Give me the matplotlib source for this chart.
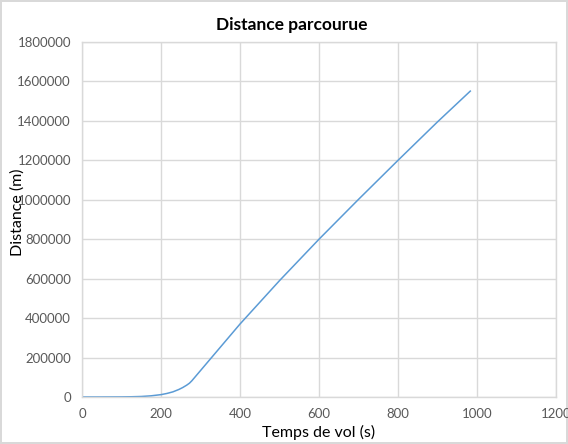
import numpy as np
import matplotlib.pyplot as plt

# temps de vol (s) et distance parcourue (m)
temps = [0, 50, 100, 125, 150, 175, 200, 215, 230, 245, 255, 265, 272, 278,
         300, 350, 400, 500, 600, 700, 800, 900, 983]
distance = [0, 100, 500, 1200, 2600, 6000, 12000, 18000, 26000, 38000, 48000, 60000, 70000, 82000,
            134000, 252000, 370000, 590000, 800000, 1002000, 1200000, 1395000, 1551000]

x_ticks = [0, 200, 400, 600, 800, 1000, 1200]
y_ticks = [0, 200000, 400000, 600000, 800000, 1000000, 1200000, 1400000, 1600000, 1800000]

GRID = '#d9d9d9'
TICK = '#595959'


def main():
    plt.rcParams['font.family'] = ['Lato', 'DejaVu Sans']

    fig = plt.figure(figsize=(5.68, 4.44), dpi=100)
    fig.patch.set_edgecolor(GRID)
    fig.patch.set_linewidth(1.5)
    ax = fig.add_axes([82 / 568, 1 - 397 / 444, 474 / 568, 355 / 444])

    ax.plot(temps, distance, color='#5B9BD5', lw=1.1)

    ax.set_xlim(0, 1200)
    ax.set_ylim(0, 1800000)
    ax.set_xticks(x_ticks)
    ax.set_yticks(y_ticks)
    ax.set_yticklabels([str(v) for v in y_ticks])
    ax.tick_params(length=0, labelsize=9.5, colors=TICK, pad=8)
    ax.tick_params(axis='x', pad=8)
    ax.grid(True, color=GRID, lw=1)
    for s in ax.spines.values():
        s.set_color(GRID)
        s.set_linewidth(1)

    fig.text(292 / 568, 1 - 25 / 444, 'Distance parcourue', ha='center', va='center',
             fontsize=12.5, fontweight='bold')
    fig.text(319 / 568, 1 - 432 / 444, 'Temps de vol (s)', ha='center', va='center',
             fontsize=11.5)
    fig.text(18 / 568, 1 - 212 / 444, 'Distance (m)', ha='center', va='center',
             rotation=90, fontsize=11.5)

    plt.savefig('out.png', dpi=100)


if __name__ == '__main__':
    main()
